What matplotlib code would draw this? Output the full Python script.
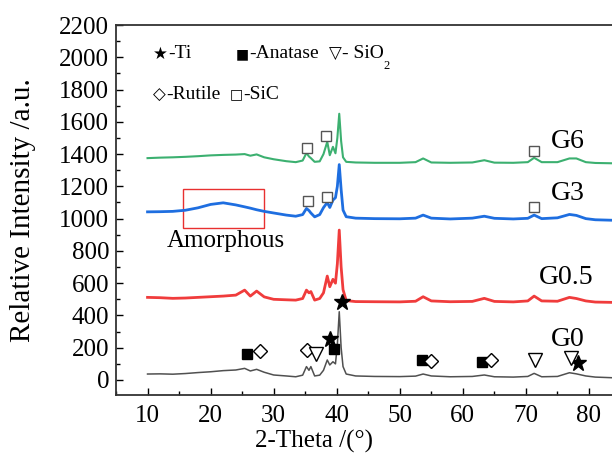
import matplotlib
matplotlib.use("Agg")
import matplotlib.pyplot as plt
from matplotlib.patches import Rectangle
from matplotlib.ticker import MultipleLocator

plt.rcParams['font.family'] = ['Liberation Serif', 'DejaVu Sans']
plt.rcParams['mathtext.fontset'] = 'stix'

# ---- data ----
two_theta = [10, 12, 14, 16, 18, 20, 22, 24, 25.4, 26.3, 27.3, 28.5, 30, 32, 33.5,
             34.6, 35.2, 35.6, 35.9, 36.5, 37.3, 37.9, 38.5, 38.9, 39.4, 39.8,
             40.1, 40.4, 40.7, 41.0, 41.5, 43, 46, 50, 52.5, 53.7, 55, 58, 61.5,
             63.4, 65, 68, 70.3, 71.3, 72.5, 75, 76.9, 78, 79.5, 81, 83.7]

g0 = [37, 38, 36, 40, 46, 51, 58, 62, 72, 56, 66, 48, 31, 25, 20,
      30, 83, 60, 83, 25, 30, 60, 124, 93, 113, 100,
      220, 423, 200, 83, 37, 25, 22, 21, 24, 37, 25, 20, 22,
      31, 20, 18, 22, 41, 20, 22, 45, 38, 25, 18, 14]

g05 = [512, 510, 506, 508, 512, 516, 520, 526, 557, 520, 551, 515, 500, 497, 495,
       505, 557, 540, 548, 495, 505, 540, 644, 578, 624, 600,
       720, 929, 700, 560, 492, 486, 485, 484, 488, 516, 490, 485, 487,
       506, 487, 484, 490, 520, 490, 488, 512, 505, 490, 483, 481]

g3 = [1042, 1043, 1045, 1052, 1067, 1088, 1098, 1085, 1073, 1065, 1055, 1045, 1035, 1022, 1015,
      1025, 1063, 1050, 1035, 1011, 1025, 1068, 1100, 1069, 1115, 1130,
      1200, 1335, 1180, 1053, 1012, 1003, 1000, 999, 1003, 1022, 1003, 998, 1003,
      1015, 1002, 998, 1002, 1022, 1000, 1005, 1026, 1020, 1000, 993, 990]

g6 = [1375, 1378, 1380, 1383, 1387, 1392, 1395, 1397, 1400, 1390, 1398, 1380, 1368, 1356, 1350,
      1360, 1407, 1385, 1375, 1352, 1355, 1400, 1476, 1393, 1445, 1405,
      1500, 1650, 1480, 1380, 1352, 1348, 1346, 1346, 1350, 1373, 1348, 1346, 1348,
      1362, 1347, 1346, 1350, 1377, 1350, 1350, 1373, 1373, 1350, 1345, 1343]

series_names = ['G0', 'G0.5', 'G3', 'G6']
series_colors = ['#505050', '#f03c3c', '#1e6ee0', '#3cb070']
label_pos_x = [76.7, 76.4, 76.7, 76.7]
label_pos_y = [254, 638, 1158, 1480]

ti_x = [39.0, 40.8, 78.3]
ti_y = [252, 481, 107]
anatase_x = [25.7, 39.6, 53.5, 63.0]
anatase_y = [161, 192, 124, 109]
rutile_x = [27.9, 35.3, 55.0, 64.5]
rutile_y = [182, 186, 120, 124]
sio2_x = [36.7, 71.4, 77.1]
sio2_y = [159, 124, 138]
sic_x = [35.3, 38.3, 71.3, 35.4, 38.5, 71.3]
sic_y = [1439, 1513, 1420, 1110, 1135, 1073]

xticks = [10, 20, 30, 40, 50, 60, 70, 80]
yticks = list(range(0, 2201, 200))

# legend entries: (glyph, glyph size, label, x, y) in axes fraction
legend_items = [('★', 12, '-Ti', 0.0746, 0.922),
                ('■', 10, '-Anatase', 0.242, 0.922),
                ('▽', 12, '- SiO', 0.429, 0.922),
                ('◇', 12, '-Rutile', 0.0746, 0.812),
                ('□', 10, '-SiC', 0.230, 0.812)]

# ---- figure ----
fig = plt.figure(figsize=(6.12, 4.66), dpi=100)
ax = fig.add_axes([116/612, 1 - 395/466, 1 - 116/612, (395 - 25)/466])

lws = [1.1, 2.0, 2.0, 1.5]
for ys, c, lw in zip([g0, g05, g3, g6], series_colors, lws):
    ax.plot(two_theta, ys, color=c, lw=lw, solid_joinstyle='round')

for name, lx, ly in zip(series_names, label_pos_x, label_pos_y):
    ax.text(lx, ly, name, fontsize=20, ha='center', va='center')

ax.plot(ti_x, ti_y, ls='none', marker='*', ms=12, color='black')
ax.plot(anatase_x, anatase_y, ls='none', marker='s', ms=6.5, color='black')
ax.plot(rutile_x, rutile_y, ls='none', marker='D', ms=7.5, mfc='white', mec='black', mew=1.0)
ax.plot(sio2_x, sio2_y, ls='none', marker='v', ms=10, mfc='white', mec='black', mew=1.0)
ax.plot(sic_x, sic_y, ls='none', marker='s', ms=7, mfc='white', mec='#555555', mew=1.0)

ax.add_patch(Rectangle((15.7, 945), 12.8, 236, fill=False, edgecolor='#e83030', lw=1.0))
ax.text(22.4, 861, 'Amorphous', fontsize=18, ha='center', va='center')

# legend texts
for glyph, gs, lab, lx, ly in legend_items:
    g = ax.text(lx, ly, glyph, transform=ax.transAxes, fontsize=gs, va='center',
                family=['DejaVu Sans'])
    t = ax.annotate(lab, xy=(1.0, 0.5), xycoords=g, fontsize=14, va='center', ha='left')
    if lab == '- SiO':
        ax.annotate('2', xy=(1.0, 0.15), xycoords=t, fontsize=9, va='top', ha='left')

ax.set_xlim(5, 83.65)
ax.set_ylim(-93, 2200)
ax.set_xticks(xticks)
ax.set_yticks(yticks)
ax.xaxis.set_minor_locator(MultipleLocator(5))
ax.yaxis.set_minor_locator(MultipleLocator(100))
ax.tick_params(which='major', direction='in', length=5, width=1.0, labelsize=18, top=False, right=False)
ax.tick_params(which='minor', direction='in', length=3, width=1.0, top=False, right=False)
ax.tick_params(axis='x', which='major', pad=7)
ax.tick_params(axis='y', which='major', pad=5)
ax.spines['right'].set_visible(False)
for s in ['left', 'bottom', 'top']:
    ax.spines[s].set_linewidth(1.3)
    ax.spines[s].set_color('#333333')

ax.set_xlabel('2-Theta /(°)', fontsize=18)
ax.xaxis.set_label_coords((314 - 116) / 496, (395 - 430) / 370)
ax.set_ylabel('Relative Intensity /a.u.', fontsize=21)
ax.yaxis.set_label_coords((36 - 116) / 496, 0.5)

fig.savefig('out.png', dpi=100)
